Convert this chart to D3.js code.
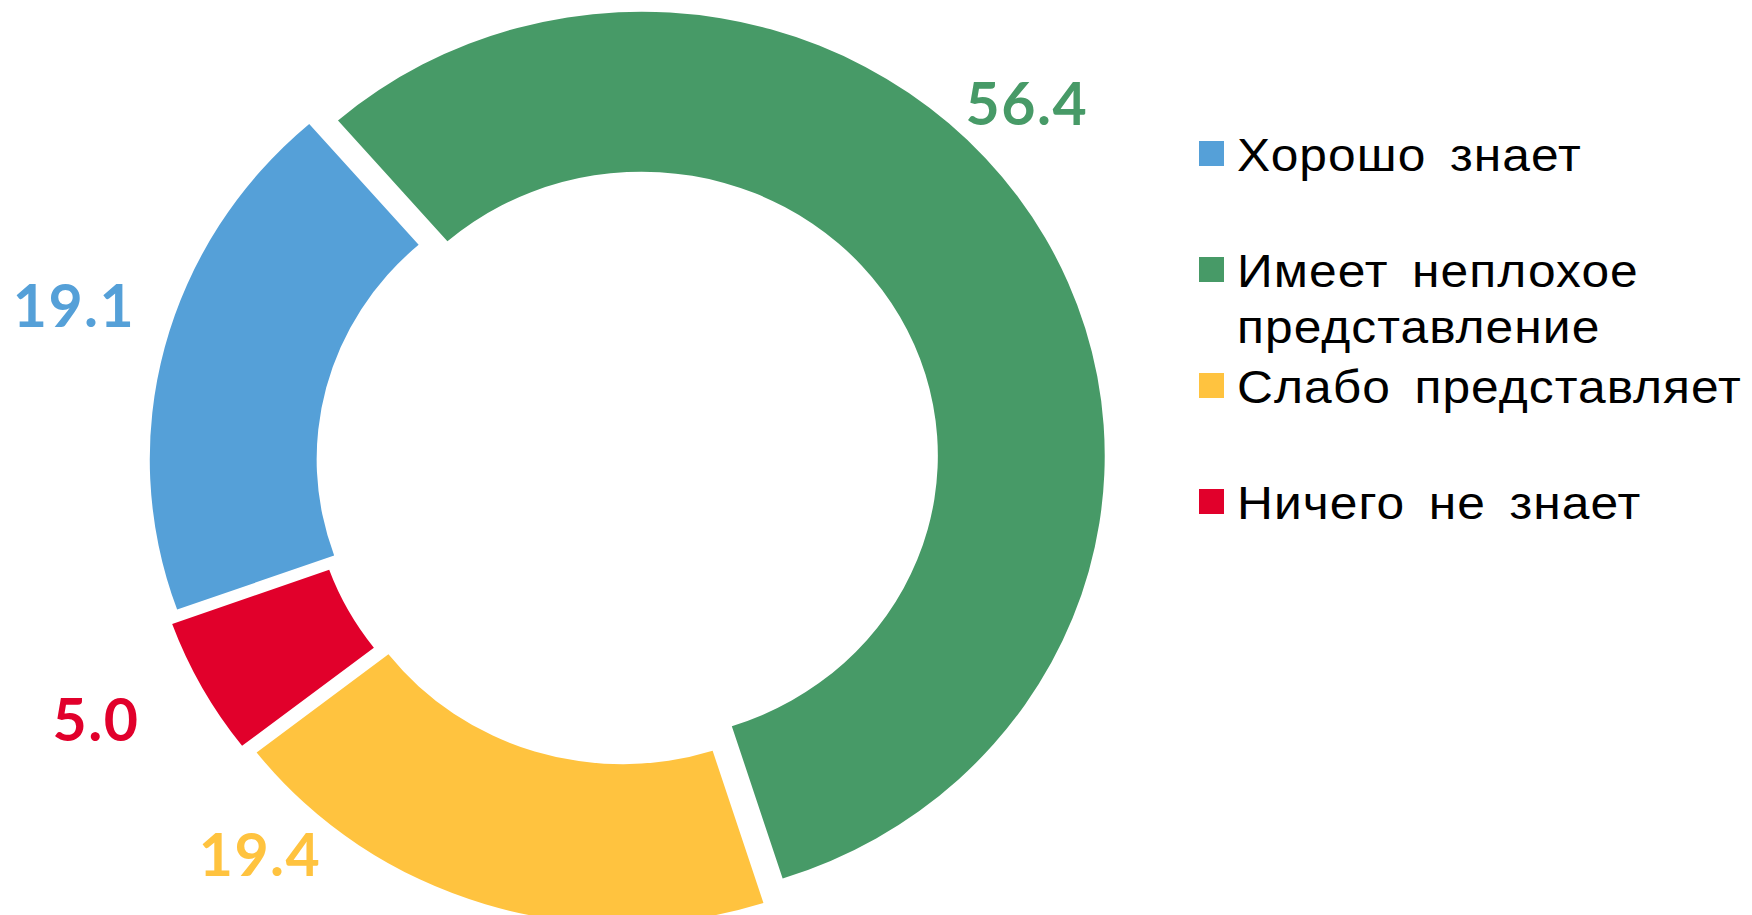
<!DOCTYPE html>
<html><head><meta charset="utf-8">
<script src="https://cdn.jsdelivr.net/npm/d3@7"></script>
<style>html,body{margin:0;padding:0;background:#fff;overflow:hidden} svg{display:block}</style>
</head><body>
<svg id="chart" width="1752" height="915"></svg>
<script>
// ---- data ----
const categories = ["Хорошо знает", "Имеет неплохое представление", "Слабо представляет", "Ничего не знает"];
const legendLines = [["Хорошо знает"], ["Имеет неплохое", "представление"], ["Слабо представляет"], ["Ничего не знает"]];
const values = [19.1, 56.4, 19.4, 5.0];
const valueLabels = ["19.1", "56.4", "19.4", "5.0"];
const colors = ["#55A0D8", "#479A67", "#FFC33F", "#E1002B"];

// ---- layout ----
const cx = 628, cy = 463, outerR = 444, innerR = 284, stretchX = 1.043;
const explode = [15, 15, 18, 22];
const startDeg = 250.2;
const labelAngleOffset = [1.9, -13.9, 24.8, 2.1]; // degrees from slice bisector
const labelDist = [554, 525, 527, 571];
const legend = { x: 1199, textX: 1237, firstBaseline: 171, step: 116, lineH: 56, box: 25, textStretch: 1.08 };

const svg = d3.select("#chart");
const rad = Math.PI / 180;

const pie = d3.pie().sort(null).value(d => d)
  .startAngle(startDeg * rad).endAngle(startDeg * rad + 2 * Math.PI);
const arcs = pie(values);
const arc = d3.arc().innerRadius(innerR).outerRadius(outerR);

const g = svg.append("g").attr("transform", `translate(${cx},${cy}) scale(${stretchX},1)`);
g.selectAll("path").data(arcs).enter().append("path")
  .attr("d", arc)
  .attr("fill", (d, i) => colors[i])
  .attr("transform", (d, i) => {
    const m = (d.startAngle + d.endAngle) / 2;
    return `translate(${explode[i] * Math.sin(m)},${-explode[i] * Math.cos(m)})`;
  });

// value labels
svg.selectAll("text.val").data(arcs).enter().append("text")
  .attr("class", "val")
  .attr("x", (d, i) => {
    const a = (d.startAngle + d.endAngle) / 2 + labelAngleOffset[i] * rad;
    return cx + stretchX * labelDist[i] * Math.sin(a);
  })
  .attr("y", (d, i) => {
    const a = (d.startAngle + d.endAngle) / 2 + labelAngleOffset[i] * rad;
    return cy - labelDist[i] * Math.cos(a);
  })
  .attr("dy", "0.36em")
  .attr("text-anchor", "middle")
  .attr("font-family", "Lato, 'Open Sans', sans-serif")
  .attr("font-weight", "bold")
  .attr("font-size", 59)
  .attr("letter-spacing", 1.5)
  .attr("fill", (d, i) => colors[i])
  .text((d, i) => valueLabels[i]);

// legend
const lg = svg.append("g");
categories.forEach((c, i) => {
  const base = legend.firstBaseline + i * legend.step;
  lg.append("rect").attr("x", legend.x).attr("y", base - 30)
    .attr("width", legend.box).attr("height", legend.box).attr("fill", colors[i]);
  const t = lg.append("text")
    .attr("transform", `translate(${legend.textX},0) scale(${legend.textStretch},1)`)
    .attr("font-family", "'Liberation Sans', Arial, sans-serif")
    .attr("font-size", 46).attr("fill", "#000")
    .attr("letter-spacing", 1)
    .attr("word-spacing", 8);
  legendLines[i].forEach((ln, j) => {
    t.append("tspan").attr("x", 0).attr("y", base + j * legend.lineH).text(ln);
  });
});
</script>
</body></html>
